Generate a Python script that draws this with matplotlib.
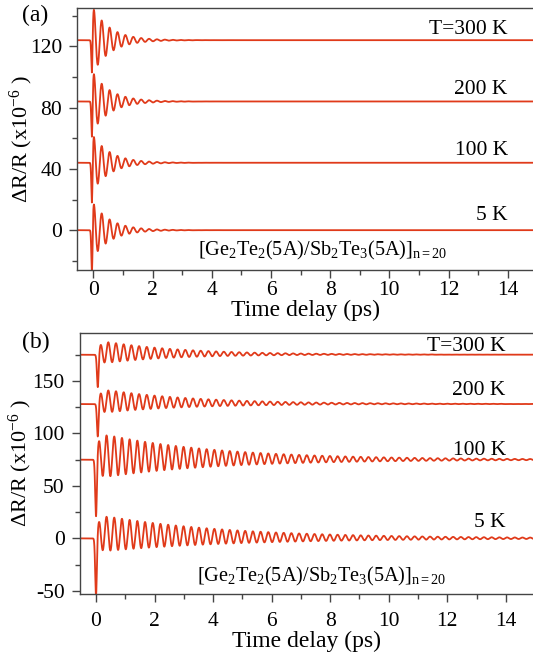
import numpy as np
import matplotlib
matplotlib.use("Agg")
import matplotlib.pyplot as plt
from matplotlib.ticker import MultipleLocator
from math import erf

plt.rcParams["font.family"] = ["Liberation Serif", "DejaVu Serif"]
plt.rcParams["mathtext.fontset"] = "custom"
plt.rcParams["mathtext.rm"] = "Liberation Serif"
plt.rcParams["mathtext.it"] = "Liberation Serif:italic"
plt.rcParams["axes.unicode_minus"] = False

# ---- fitted trace parameters, panel (a) ----
labels_a = ["T=300 K", "200 K", "100 K", "5 K"]
offset_a = [124, 84, 44, 0]          # vertical offset of each trace (x1e-6)
dip_a = [21, 23, 26, 28]             # depth of the initial electronic dip
amp_a = [20, 18, 17, 17]             # phonon oscillation amplitude
tau_a = [0.6, 0.6, 0.6, 0.6]         # damping time (ps)
t_dip_a = [-0.045, -0.045, -0.045, -0.045]
label_y_a = [131, 92, 52, 9.5]

# ---- fitted trace parameters, panel (b) ----
labels_b = ["T=300 K", "200 K", "100 K", "5 K"]
offset_b = [175, 128, 75, 0]
dip_b = [30, 30, 52, 53]
amp_b = [11.5, 12, 22, 18]
tau_b = [2.5, 3.0, 4.0, 4.5]
bg_b = [2.5, 3.0, 4.0, 5.0]          # slowly decaying background
t_dip_b = [0.06, 0.06, 0.0, 0.0]
label_y_b = [183, 141, 84, 15]

freq_a = 3.75   # THz
freq_b = 3.8    # THz

t = np.linspace(-0.6, 15.0, 8000)
verf = np.vectorize(erf)
color = "#e03a1a"


def trace_a(off, d, a, tau, td):
    onset = 0.5 * (1 + verf((t - td) / 0.02))
    tt = np.clip(t - (td + 0.065), 0, None)
    osc = a * np.exp(-tt / tau) * np.cos(2 * np.pi * freq_a * (t - (td + 0.065)))
    dip = -d * np.exp(-((t - td) / 0.03) ** 2)
    return off + dip + onset * osc


def trace_b(off, d, a, tau, bg, td):
    t0 = td - 0.02
    onset = 0.5 * (1 + verf((t - t0) / 0.015))
    tt = np.clip(t - t0, 0, None)
    rise = 1 - np.exp(-tt / 0.1)
    osc = a * rise * np.exp(-tt / tau) * np.cos(2 * np.pi * freq_b * (t - (td + 0.36)))
    back = bg * rise * np.exp(-tt / 4.0)
    dip = -d * np.exp(-((t - td) / 0.04) ** 2)
    return off + dip + onset * (osc + back)


W, H = 533, 663
fig = plt.figure(figsize=(W / 100, H / 100), dpi=100)

ax_a = fig.add_axes([77.3 / W, 1 - 270 / H, 1 - 77.3 / W, (270 - 8) / H])
ax_b = fig.add_axes([80 / W, 1 - 594 / H, 1 - 80 / W, (594 - 332.7) / H])

for i in range(4):
    ax_a.plot(t, trace_a(offset_a[i], dip_a[i], amp_a[i], tau_a[i], t_dip_a[i]),
              color=color, lw=1.3)
    ax_a.text(14.0, label_y_a[i], labels_a[i], ha="right", va="center", fontsize=15.5)
    ax_b.plot(t, trace_b(offset_b[i], dip_b[i], amp_b[i], tau_b[i], bg_b[i], t_dip_b[i]),
              color=color, lw=1.3)
    ax_b.text(14.0, label_y_b[i], labels_b[i], ha="right", va="center", fontsize=15.5)

ax_a.set_xlim(-0.54, 14.85)
ax_a.set_ylim(-26, 145)
ax_b.set_xlim(-0.547, 14.93)
ax_b.set_ylim(-53, 196)

ax_a.yaxis.set_major_locator(MultipleLocator(40))
ax_a.yaxis.set_minor_locator(MultipleLocator(20))
ax_b.yaxis.set_major_locator(MultipleLocator(50))
ax_b.yaxis.set_minor_locator(MultipleLocator(25))

sample = r"[Ge$_2$Te$_2$(5A)/Sb$_2$Te$_3$(5A)]$_{\mathrm{n=20}}$"
for ax, xpad, lab_x in ((ax_a, 2, -0.092), (ax_b, 7, -0.102)):
    ax.xaxis.set_major_locator(MultipleLocator(2))
    ax.xaxis.set_minor_locator(MultipleLocator(1))
    ax.spines["right"].set_visible(False)
    for s in ("left", "bottom", "top"):
        ax.spines[s].set_color("#444444")
        ax.spines[s].set_linewidth(1.0)
    ax.tick_params(which="major", direction="out", length=6, width=1.0,
                   colors="#444444", labelcolor="black", labelsize=15.5)
    ax.tick_params(which="minor", direction="out", length=3.5, width=1.0,
                   colors="#444444")
    ax.tick_params(axis="x", which="major", pad=xpad)
    ax.tick_params(axis="y", which="major", pad=5)
    ax.set_xlabel("Time delay (ps)", fontsize=17, labelpad=0)
    ax.set_ylabel(r"ΔR/R (x10$^{-6}$ )", fontsize=16)
    ax.yaxis.set_label_coords(lab_x, 0.5)

fig.text(22 / W, 1 - 15 / H, "(a)", fontsize=17, ha="left", va="center")
fig.text(22 / W, 1 - 342 / H, "(b)", fontsize=17, ha="left", va="center")

ax_a.text(3.55, -13, sample, fontsize=14.6, ha="left", va="center")
ax_b.text(3.45, -36, sample, fontsize=14.6, ha="left", va="center")

fig.savefig("out.png", dpi=100)
